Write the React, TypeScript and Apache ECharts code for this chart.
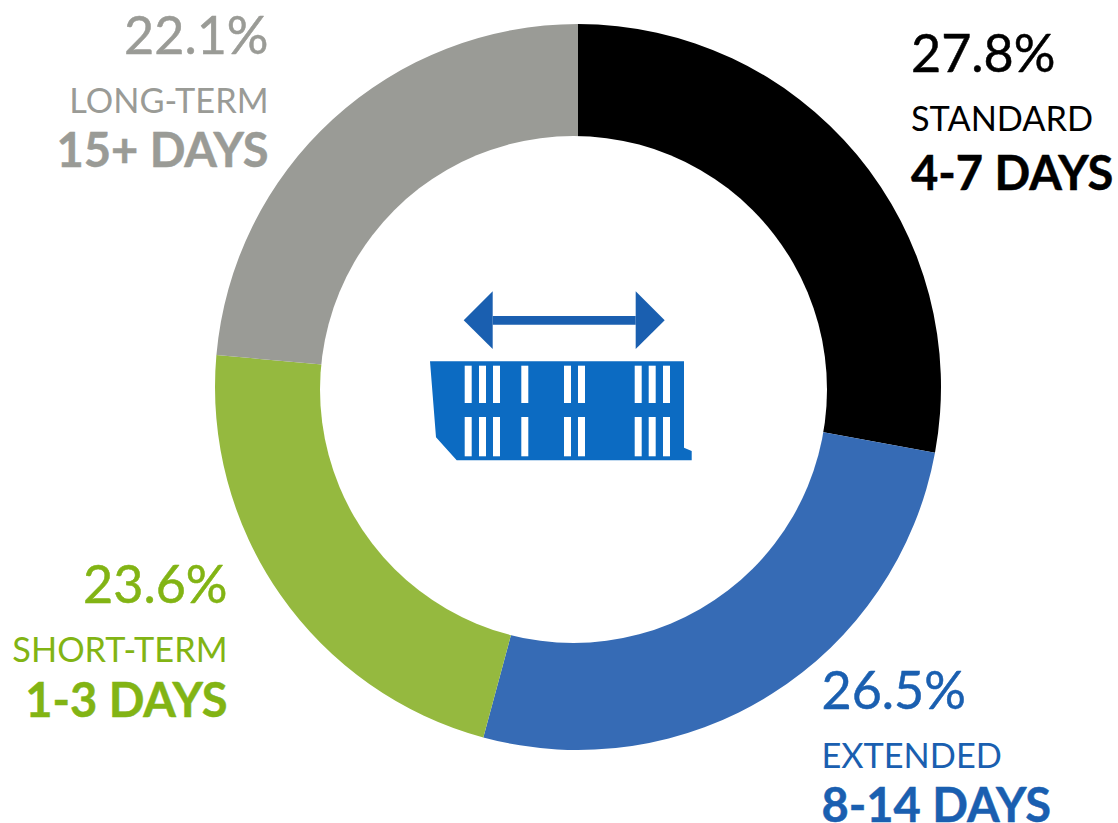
import React, { useEffect, useRef } from "react";
import * as echarts from "echarts";

const categories = ["STANDARD", "EXTENDED", "SHORT-TERM", "LONG-TERM"];
const durations = ["4-7 DAYS", "8-14 DAYS", "1-3 DAYS", "15+ DAYS"];
// Printed percentages, as the reference labels them
const labelValues = [27.8, 26.5, 23.6, 22.1];
const sliceValues = [27.9, 26.3, 22.2, 23.6];
const sliceColors = ["#000000", "#366bb5", "#95b93f", "#9a9b96"];
const textColors = ["#000000", "#1a5fb0", "#82b414", "#9a9b96"];
// anchor x, align, y centres of the three lines
const labelLayout: [number, string, number, number, number][] = [
  [911, "left", 52, 117, 172],
  [821.5, "left", 689, 754, 804],
  [227.5, "right", 583, 648, 699],
  [268.5, "right", 34, 99, 149],
];
const slitXs = [464.7, 479, 493, 521.3, 564, 578, 634.7, 648.7, 663];
const ARROW = "#1a5fb0";
const BOX = "#0c6bc2";

function labels() {
  const out: any[] = [];
  labelValues.forEach((v, i) => {
    const [x, align, y1, y2, y3] = labelLayout[i];
    const base = { fill: textColors[i], align, verticalAlign: "middle", fontFamily: "Lato" };
    out.push({
      type: "text", z: 12, x, y: y1,
      style: { ...base, text: `${v.toFixed(1)}%`, fontSize: 52, stroke: textColors[i], lineWidth: 0.5 },
    });
    out.push({ type: "text", z: 12, x, y: y2, style: { ...base, text: categories[i], fontSize: 34.3 } });
    out.push({
      type: "text", z: 12, x, y: y3,
      style: { ...base, text: durations[i], fontSize: 47, fontWeight: "bold", stroke: textColors[i], lineWidth: 0.5 },
    });
  });
  return out;
}

function icon() {
  const out: any[] = [
    { type: "polygon", z: 11, shape: { points: [[463.7, 320.3], [492.7, 291.3], [492.7, 349]] }, style: { fill: ARROW } },
    { type: "polygon", z: 11, shape: { points: [[635.7, 291.3], [664.7, 320.3], [635.7, 349]] }, style: { fill: ARROW } },
    { type: "rect", z: 11, shape: { x: 492.7, y: 316, width: 143, height: 8.7 }, style: { fill: ARROW } },
    {
      type: "polygon",
      z: 11,
      shape: { points: [[430, 361.3], [684, 361.3], [684, 447.7], [691.7, 451], [691.7, 460.3], [456.7, 460.3], [436, 437.3]] },
      style: { fill: BOX },
    },
  ];
  slitXs.forEach((x) => {
    out.push({ type: "rect", z: 12, shape: { x, y: 365.7, width: 7, height: 37.3 }, style: { fill: "#ffffff" } });
    out.push({ type: "rect", z: 12, shape: { x, y: 417, width: 7, height: 39.3 }, style: { fill: "#ffffff" } });
  });
  return out;
}

export default function App() {
  const ref = useRef<HTMLDivElement>(null);
  useEffect(() => {
    document.body.style.margin = "0";
    const chart = echarts.init(ref.current!, null, { renderer: "svg" });
    chart.setOption({
      animation: false,
      backgroundColor: "#ffffff",
      series: [
        {
          type: "pie",
          center: [578, 387],
          radius: [240, 363],
          startAngle: 90,
          clockwise: true,
          label: { show: false },
          labelLine: { show: false },
          silent: true,
          data: sliceValues.map((value, i) => ({ value, name: categories[i], itemStyle: { color: sliceColors[i] } })),
        },
      ],
      graphic: {
        elements: [
          // The hole sits slightly off the outer circle's centre in the reference
          { type: "circle", z: 10, shape: { cx: 573.5, cy: 389.5, r: 253.5 }, style: { fill: "#ffffff" } },
          ...icon(),
          ...labels(),
        ],
      },
    });
    return () => chart.dispose();
  }, []);
  return <div ref={ref} style={{ width: 1118, height: 823 }} />;
}
